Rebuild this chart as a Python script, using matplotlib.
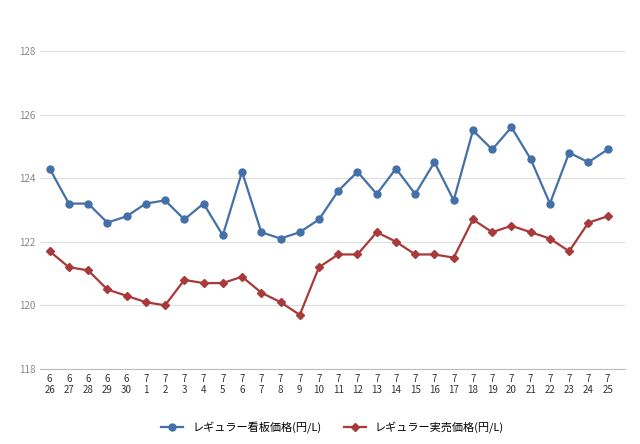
import matplotlib
matplotlib.use("Agg")
import matplotlib.pyplot as plt

months = [6]*5 + [7]*25
days = [26,27,28,29,30] + list(range(1,26))
labels = [f"{m}\n{d}" for m, d in zip(months, days)]
board = [124.3,123.2,123.2,122.6,122.8,123.2,123.3,122.7,123.2,122.2,124.2,122.3,122.1,122.3,122.7,
         123.6,124.2,123.5,124.3,123.5,124.5,123.3,125.5,124.9,125.6,124.6,123.2,124.8,124.5,124.9]
actual = [121.7,121.2,121.1,120.5,120.3,120.1,120.0,120.8,120.7,120.7,120.9,120.4,120.1,119.7,121.2,
          121.6,121.6,122.3,122.0,121.6,121.6,121.5,122.7,122.3,122.5,122.3,122.1,121.7,122.6,122.8]

plt.rcParams["font.family"] = ["Noto Sans CJK JP"]
fig = plt.figure(figsize=(6.4, 4.44), dpi=100)
ax = fig.add_axes([0.0625, 0.169, 0.914, 0.788])
x = list(range(len(labels)))
ax.plot(x, board, color="#4470a8", marker="o", markersize=5, lw=1.6, label="レギュラー看板価格(円/L)")
ax.plot(x, actual, color="#a83a3a", marker="D", markersize=4, lw=1.6, label="レギュラー実売価格(円/L)")
ax.set_xlim(-0.5, 29.9)
ax.set_ylim(118, 129)
ax.set_yticks([118,120,122,124,126,128])
ax.set_xticks(x)
ax.set_xticklabels(labels, fontsize=7, color="#333333")
ax.tick_params(axis="y", labelsize=7, colors="#888888", length=0)
ax.tick_params(axis="x", length=0)
ax.grid(axis="y", color="#dddddd", lw=0.8)
for s in ["top", "right", "left"]:
    ax.spines[s].set_visible(False)
ax.spines["bottom"].set_color("#bbbbbb")
ax.legend(loc="upper center", bbox_to_anchor=(0.5, -0.12), ncol=2, frameon=False, fontsize=8)
fig.savefig("out.png", dpi=100)
